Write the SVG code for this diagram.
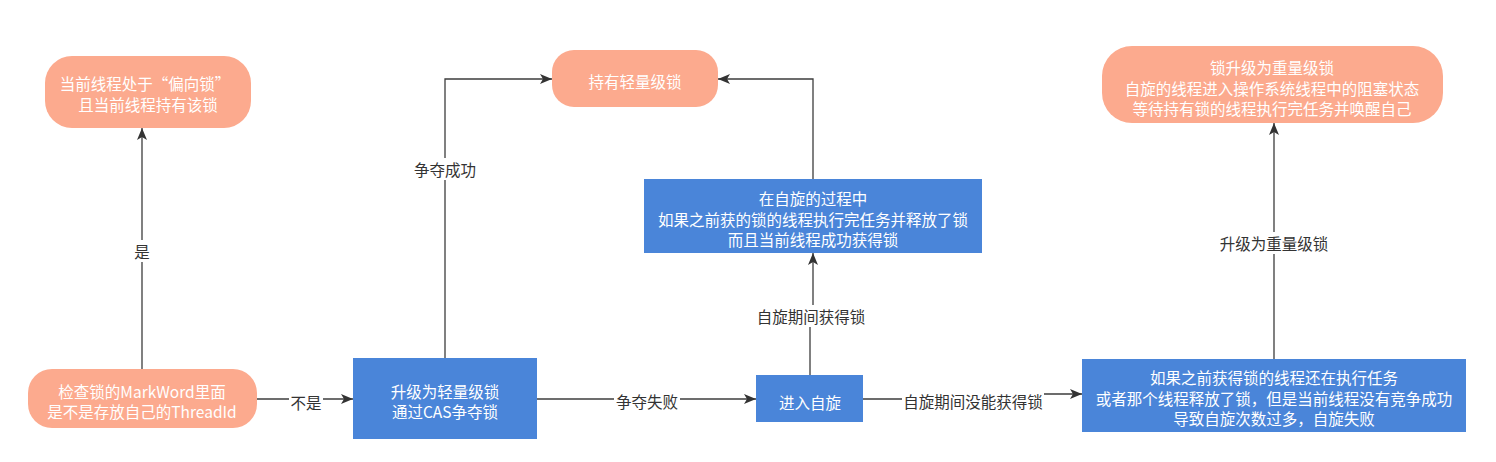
<svg xmlns="http://www.w3.org/2000/svg" width="1496" height="462" viewBox="0 0 1496 462">
<style>
text{font-family:"Noto Sans CJK SC","Noto Sans",sans-serif;font-size:15.5px;text-anchor:middle;dominant-baseline:central}
.s{fill:#FCAA8E}
.b{fill:#4A85D9}
.w{fill:#FFFFFF}
.l{fill:#333333}
.c{fill:none;stroke:#3d3d3d;stroke-width:1.3}
.bg{fill:#FFFFFF}
</style>
<defs>
<marker id="ah" viewBox="0 0 12 10" refX="12" refY="5" markerWidth="12" markerHeight="10" markerUnits="userSpaceOnUse" orient="auto">
<path d="M0,0 L12,5 L0,10 L3,5 Z" fill="#333333"/>
</marker>
</defs>
<g id="connectors">
<path class="c" d="M142,369 V128" marker-end="url(#ah)"/>
<path class="c" d="M257,399 H353" marker-end="url(#ah)"/>
<path class="c" d="M445,358 V79 H552" marker-end="url(#ah)"/>
<path class="c" d="M537,399 H756" marker-end="url(#ah)"/>
<path class="c" d="M810,375 V316 H813 V253" marker-end="url(#ah)"/>
<path class="c" d="M813,179 V79 H718" marker-end="url(#ah)"/>
<path class="c" d="M863,399 H973 V394 H1082" marker-end="url(#ah)"/>
<path class="c" d="M1274,359 V123" marker-end="url(#ah)"/>
<rect class="bg" x="132" y="240" width="20" height="22"/>
<text class="l" x="142" y="251">是</text>
<rect class="bg" x="289" y="391" width="34" height="22"/>
<text class="l" x="306" y="402">不是</text>
<rect class="bg" x="412" y="158" width="66" height="22"/>
<text class="l" x="445" y="169">争夺成功</text>
<rect class="bg" x="614" y="390" width="66" height="22"/>
<text class="l" x="647" y="401">争夺失败</text>
<rect class="bg" x="755" y="305" width="112" height="22"/>
<text class="l" x="811" y="316">自旋期间获得锁</text>
<rect class="bg" x="902" y="390" width="142" height="22"/>
<text class="l" x="973" y="401">自旋期间没能获得锁</text>
<rect class="bg" x="1218" y="232" width="112" height="22"/>
<text class="l" x="1274" y="243">升级为重量级锁</text>
</g>
<g id="node-biased">
<rect class="s" x="45" y="56" width="206" height="72" rx="27"/>
<text class="w" x="145" y="83">当前线程处于“偏向锁”</text>
<text class="w" x="148" y="104">且当前线程持有该锁</text>
</g>
<g id="node-light">
<rect class="s" x="552" y="50" width="166" height="57" rx="22"/>
<text class="w" x="635" y="81">持有轻量级锁</text>
</g>
<g id="node-heavy">
<rect class="s" x="1102" y="46" width="341" height="77" rx="30"/>
<text class="w" x="1272" y="67">锁升级为重量级锁</text>
<text class="w" x="1272" y="87.5">自旋的线程进入操作系统线程中的阻塞状态</text>
<text class="w" x="1272" y="108">等待持有锁的线程执行完任务并唤醒自己</text>
</g>
<g id="node-spin-success">
<rect class="b" x="644" y="179" width="338" height="74"/>
<text class="w" x="813" y="198">在自旋的过程中</text>
<text class="w" x="813" y="218.5">如果之前获的锁的线程执行完任务并释放了锁</text>
<text class="w" x="813" y="239">而且当前线程成功获得锁</text>
</g>
<g id="node-check">
<rect class="s" x="28" y="369" width="229" height="59" rx="24"/>
<text class="w" x="142" y="391">检查锁的MarkWord里面</text>
<text class="w" x="142" y="411">是不是存放自己的ThreadId</text>
</g>
<g id="node-upgrade">
<rect class="b" x="353" y="358" width="184" height="81"/>
<text class="w" x="445" y="391">升级为轻量级锁</text>
<text class="w" x="445" y="411">通过CAS争夺锁</text>
</g>
<g id="node-spin">
<rect class="b" x="756" y="375" width="107" height="47"/>
<text class="w" x="810" y="402">进入自旋</text>
</g>
<g id="node-spin-fail">
<rect class="b" x="1082" y="359" width="384" height="73"/>
<text class="w" x="1274" y="377">如果之前获得锁的线程还在执行任务</text>
<text class="w" x="1274" y="397.5">或者那个线程释放了锁，但是当前线程没有竞争成功</text>
<text class="w" x="1274" y="418">导致自旋次数过多，自旋失败</text>
</g>
</svg>
